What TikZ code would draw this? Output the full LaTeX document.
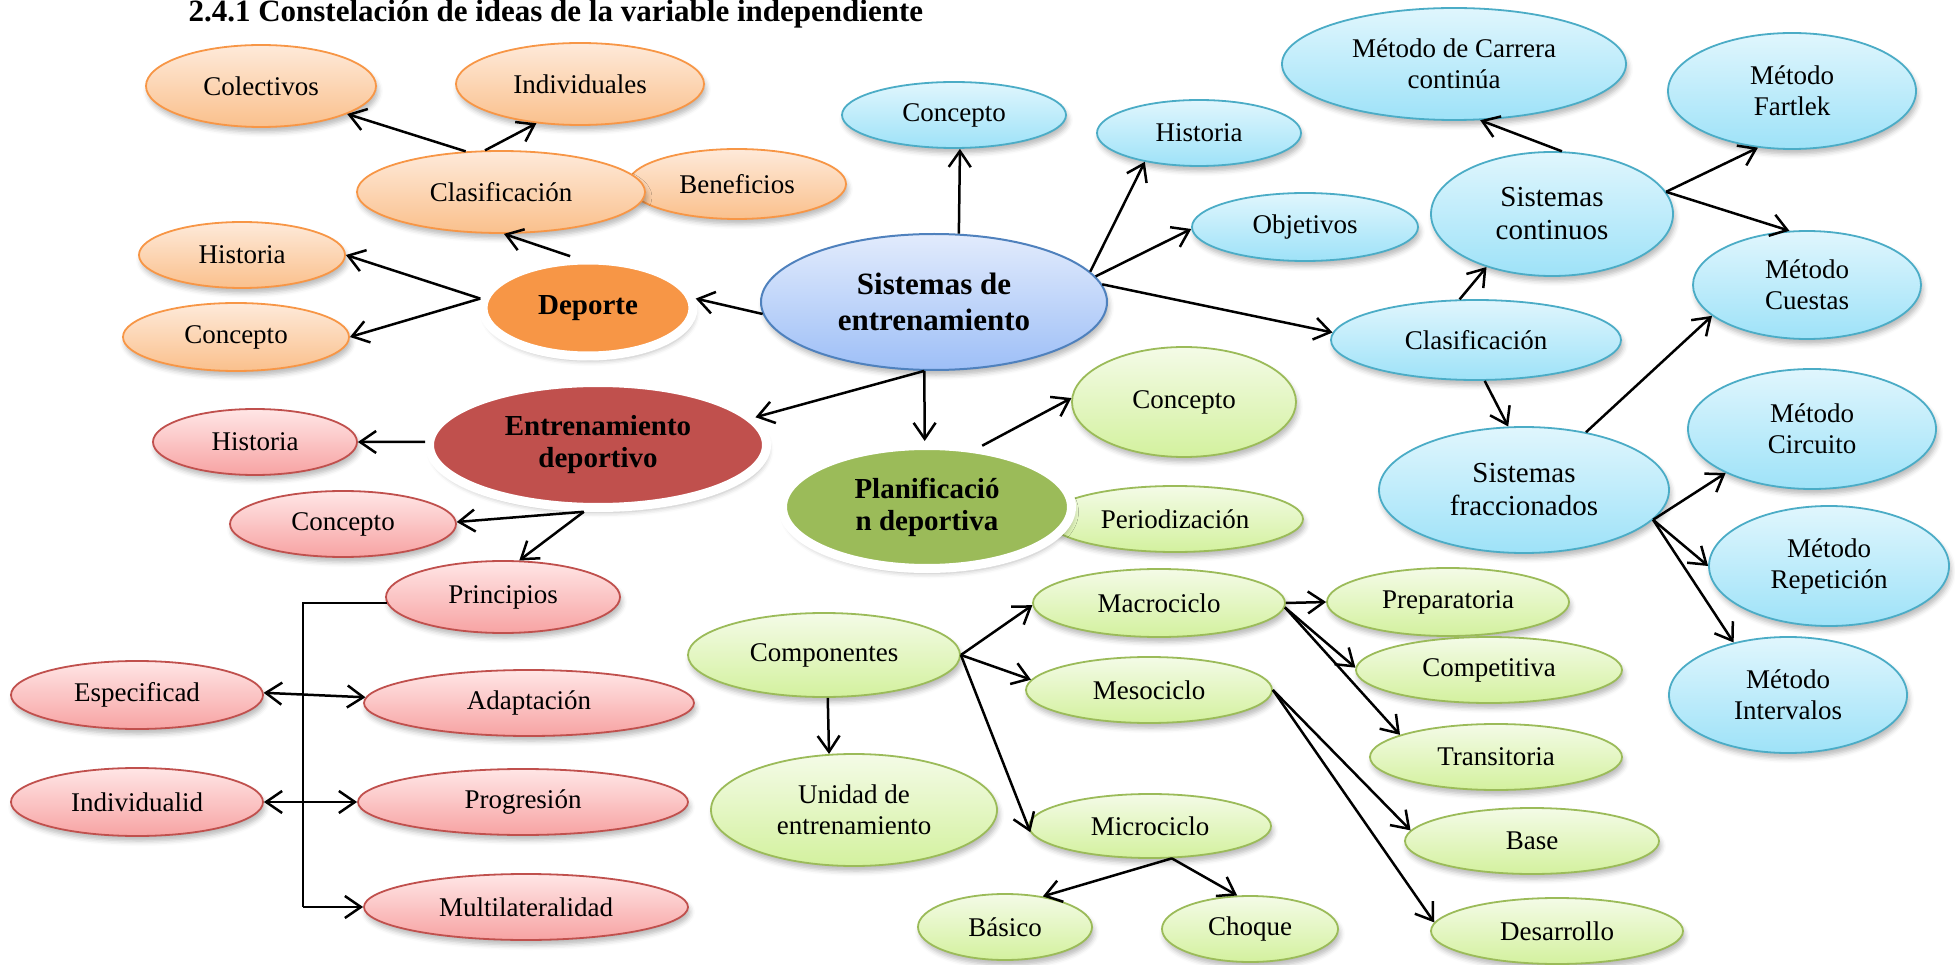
\documentclass[tikz,border=0pt]{standalone}
\usepackage{fontspec}
\setmainfont{Liberation Serif}
\usetikzlibrary{shapes.geometric,arrows.meta,shadows.blur}
\definecolor{oBd}{HTML}{F79646}\definecolor{oTop}{HTML}{FEEADA}\definecolor{oBot}{HTML}{FAC08C}
\definecolor{bBd}{HTML}{4BACC6}\definecolor{bTop}{HTML}{E0F6FD}\definecolor{bBot}{HTML}{9EE2F8}
\definecolor{sBd}{HTML}{4F81BD}\definecolor{sTop}{HTML}{E2EBFC}\definecolor{sBot}{HTML}{9EBFF7}
\definecolor{rBd}{HTML}{C0504D}\definecolor{rTop}{HTML}{FFE6E6}\definecolor{rBot}{HTML}{F7A3A3}
\definecolor{gBd}{HTML}{9BBB59}\definecolor{gTop}{HTML}{F4FBE7}\definecolor{gBot}{HTML}{D3F19E}
\newcommand\myfN{\fontsize{27pt}{31pt}\selectfont}
\newcommand\myfS{\fontsize{29pt}{33pt}\selectfont}
\newcommand\myfB{\fontsize{29pt}{32pt}\selectfont\bfseries}
\newcommand\myfT{\fontsize{31pt}{36pt}\selectfont\bfseries}
\tikzset{
  elbase/.style={ellipse, inner sep=0pt, align=center, font=\myfN, text=black,
    blur shadow={shadow xshift=2pt, shadow yshift=-5pt, shadow blur radius=5pt, shadow opacity=28}},
  sz/.style 2 args={minimum width=#1pt, minimum height=#2pt},
  onode/.style={elbase, draw=oBd, line width=1.8pt, top color=oTop, bottom color=oBot},
  bnode/.style={elbase, draw=bBd, line width=1.8pt, top color=bTop, bottom color=bBot},
  rnode/.style={elbase, draw=rBd, line width=1.8pt, top color=rTop, bottom color=rBot},
  gnode/.style={elbase, draw=gBd, line width=1.8pt, top color=gTop, bottom color=gBot},
  ringnode/.style={elbase, draw=white, line width=9pt, fill=#1, font=\myfB},
  arr/.style={draw=black, line width=2.5pt, -{Straight Barb[length=16pt,width=22pt]}},
  darr/.style={draw=black, line width=2.5pt, {Straight Barb[length=16pt,width=22pt]}-{Straight Barb[length=16pt,width=22pt]}},
  bracket/.style={draw=black, line width=1.6pt},
}
\begin{document}
\begin{tikzpicture}[x=1pt, y=-1pt]
\useasboundingbox (0,0) rectangle (1955,965);
\node[anchor=base west, font=\myfT] (title) at (185,22) {2.4.1 Constelación de ideas de la variable independiente};

% ---------- orange ----------
\node[onode, sz={230}{82}] (colect) at (261,86) {Colectivos};
\node[onode, sz={248}{82}] (indiv) at (580,84) {Individuales};
\node[onode, sz={218}{70}] (benef) at (737,184) {Beneficios};
\node[onode, sz={288}{82}] (clasO) at (501,192) {Clasificación};
\node[onode, sz={206}{66}] (histO) at (242,255) {Historia};
\node[onode, sz={226}{68}] (concO) at (236,337) {Concepto};
\node[ringnode=oBd, sz={210}{96}] (deporte) at (588,308) {Deporte};

% ---------- blue ----------
\node[elbase, draw=sBd, line width=2pt, top color=sTop, bottom color=sBot, font=\myfT, sz={346}{136}] (sist) at (934,302) {Sistemas de\\entrenamiento};
\node[bnode, sz={224}{66}] (concB) at (954,115) {Concepto};
\node[bnode, sz={204}{66}] (histB) at (1199,133) {Historia};
\node[bnode, sz={226}{68}] (objet) at (1305,227) {Objetivos};
\node[bnode, sz={344}{112}] (carrera) at (1454,64) {Método de Carrera\\continúa};
\node[bnode, sz={248}{116}] (fartlek) at (1792,91) {Método\\Fartlek};
\node[bnode, sz={242}{124}, font=\myfS] (sisCont) at (1552,214) {Sistemas\\continuos};
\node[bnode, sz={228}{108}] (cuestas) at (1807,285) {Método\\Cuestas};
\node[bnode, sz={290}{80}] (clasB) at (1476,340) {Clasificación};
\node[bnode, sz={290}{126}, font=\myfS] (sisFrac) at (1524,490) {Sistemas\\fraccionados};
\node[bnode, sz={248}{120}] (circuito) at (1812,429) {Método\\Circuito};
\node[bnode, sz={240}{120}] (repet) at (1829,566) {Método\\Repetición};
\node[bnode, sz={238}{116}] (interv) at (1788,695) {Método\\Intervalos};

% ---------- red ----------
\node[ringnode=rBd, sz={337}{125}] (entren) at (598,445) {Entrenamiento\\deportivo};
\node[rnode, sz={204}{66}] (histR) at (255,442) {Historia};
\node[rnode, sz={226}{66}] (concR) at (343,524) {Concepto};
\node[rnode, sz={234}{72}] (princ) at (503,597) {Principios};
\node[rnode, sz={252}{68}] (espec) at (137,695) {Especificad};
\node[rnode, sz={330}{66}] (adapt) at (529,703) {Adaptación};
\node[rnode, sz={252}{68}] (indivR) at (137,802) {Individualid};
\node[rnode, sz={330}{66}] (progr) at (523,802) {Progresión};
\node[rnode, sz={324}{66}] (multi) at (526,907) {Multilateralidad};

% ---------- green ----------
\node[gnode, sz={224}{110}] (concG) at (1184,402) {Concepto};
\node[gnode, sz={256}{66}] (period) at (1175,519) {Periodización};
\node[ringnode=gBd, sz={289}{123}] (planif) at (927,507) {Planificació\\n deportiva};
\node[gnode, sz={272}{84}] (compon) at (824,655) {Componentes};
\node[gnode, sz={286}{112}] (unidad) at (854,810) {Unidad de\\entrenamiento};
\node[gnode, sz={252}{68}] (macro) at (1159,603) {Macrociclo};
\node[gnode, sz={242}{68}] (prepar) at (1448,602) {Preparatoria};
\node[gnode, sz={266}{66}] (compet) at (1489,670) {Competitiva};
\node[gnode, sz={246}{66}] (meso) at (1149,690) {Mesociclo};
\node[gnode, sz={252}{66}] (transit) at (1496,757) {Transitoria};
\node[gnode, sz={242}{64}] (micro) at (1150,826) {Microciclo};
\node[gnode, sz={254}{66}] (base) at (1532,841) {Base};
\node[gnode, sz={174}{66}] (basico) at (1005,927) {Básico};
\node[gnode, sz={176}{66}] (choque) at (1250,929) {Choque};
\node[gnode, sz={252}{66}] (desarr) at (1557,931) {Desarrollo};

% ---------- connectors ----------
\draw[arr] (clasO.131) -- (colect.-18);
\draw[arr] (clasO.111) -- (indiv.222);
\draw[arr] (deporte.109) -- (clasO.274);
\draw[arr] (deporte.175) -- (histO.0);
\draw[arr] (deporte.175) -- (concO.0);
\draw[arr] (sist.184) -- (deporte.5);
\draw[arr] (sist.70) -- (concB.-80);
\draw[arr] (sist.11.5) -- (histB.208);
\draw[arr] (sist.9.4) -- (objet.181.5);
\draw[arr] (sist.6.4) -- (clasB.177);
\draw[arr] (clasB.112) -- (sisCont.219);
\draw[arr] (sisCont.81) -- (carrera.-65);
\draw[arr] (sisCont.11.7) -- (fartlek.239);
\draw[arr] (sisCont.11.7) -- (cuestas.108);
\draw[arr] (clasB.-78) -- (sisFrac.104.5);
\draw[arr] (sisFrac.43) -- (cuestas.198.6);
\draw[arr] (sisFrac.-13.7) -- (circuito.207);
\draw[arr] (sisFrac.-13.7) -- (repet.180);
\draw[arr] (sisFrac.-13.7) -- (interv.136.4);
\draw[arr] (sist.262) -- (entren.10);
\draw[arr] (sist.262) -- (planif.92);

\draw[arr] (entren.179) -- (histR.0);
\draw[arr] (entren.258) -- (concR.1.5);
\draw[arr] (entren.258) -- (princ.66);
\coordinate (bus) at (303,0);
\draw[bracket] (princ.183) -| (bus |- multi.west);
\draw[arr] (bus |- multi.west) -- (multi.west);
\draw[darr] (espec.1.4) -- (adapt.178);
\draw[darr] (indivR.0) -- (progr.180);

\draw[arr] (planif.48) -- (concG.178.5);
\draw[arr] (compon.275) -- (unidad.114);
\draw[arr] (compon.0) -- (macro.181.4);
\draw[arr] (compon.0) -- (meso.175.3);
\draw[arr] (compon.0) -- (micro.183.3);
\draw[arr] (macro.0) -- (prepar.180);
\draw[arr] (macro.-2.2) -- (compet.179.6);
\draw[arr] (macro.-2.2) -- (transit.167.5);
\draw[arr] (meso.0) -- (base.175.8);
\draw[arr] (meso.0) -- (desarr.176.7);
\draw[arr] (micro.-56.7) -- (basico.39.7);
\draw[arr] (micro.-56.7) -- (choque.111.8);
\end{tikzpicture}
\end{document}
